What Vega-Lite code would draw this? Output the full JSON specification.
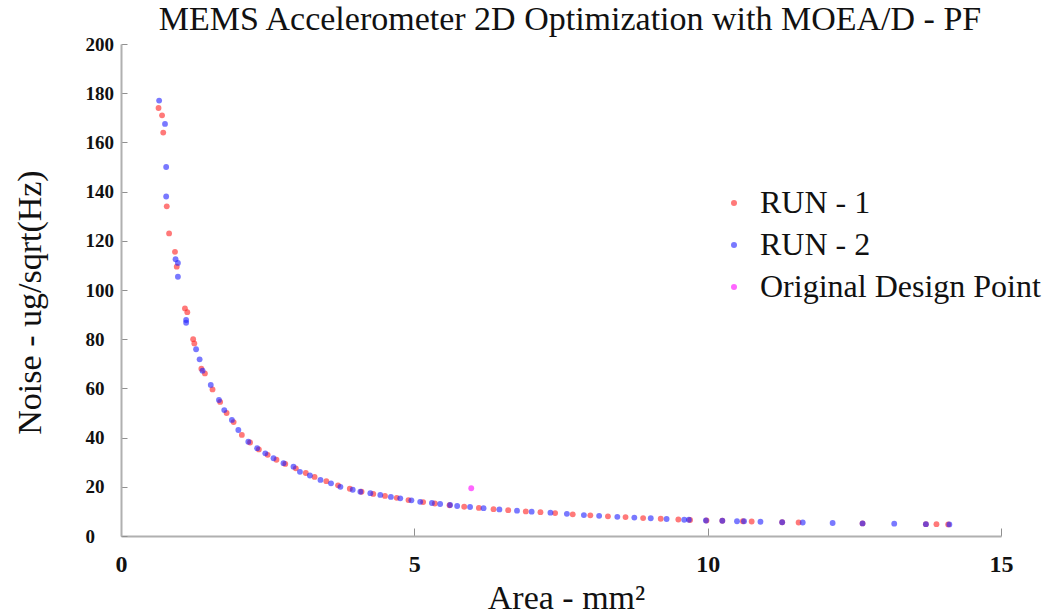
{
  "$schema": "https://vega.github.io/schema/vega-lite/v6.json",
  "autosize": {"type": "none"},
  "padding": {"left": 121, "top": 44, "right": 51, "bottom": 80},
  "width": 880,
  "height": 492,
  "background": "white",
  "title": {
    "text": "MEMS Accelerometer 2D Optimization with MOEA/D - PF",
    "font": "'Liberation Serif', 'DejaVu Serif', serif",
    "fontSize": 34,
    "fontWeight": "normal",
    "color": "#111111",
    "anchor": "middle",
    "baseline": "bottom",
    "dx": 9,
    "dy": 36,
    "offset": 0
  },
  "config": {
    "font": "Liberation Serif",
    "view": {"stroke": null},
    "axis": {"grid": false},
    "title": {"font": "'Liberation Serif', 'DejaVu Serif', serif"},
    "style": {"group-title": {"font": "'Liberation Serif', 'DejaVu Serif', serif"}}
  },
  "data": {
    "values": [
      {"area": 0.64, "noise": 174, "series": "RUN - 1"},
      {"area": 0.70, "noise": 171, "series": "RUN - 1"},
      {"area": 0.72, "noise": 164, "series": "RUN - 1"},
      {"area": 0.78, "noise": 134, "series": "RUN - 1"},
      {"area": 0.82, "noise": 123, "series": "RUN - 1"},
      {"area": 0.92, "noise": 115.5, "series": "RUN - 1"},
      {"area": 0.95, "noise": 109.5, "series": "RUN - 1"},
      {"area": 1.09, "noise": 92.5, "series": "RUN - 1"},
      {"area": 1.13, "noise": 91, "series": "RUN - 1"},
      {"area": 1.23, "noise": 80, "series": "RUN - 1"},
      {"area": 1.25, "noise": 78.3, "series": "RUN - 1"},
      {"area": 1.37, "noise": 68, "series": "RUN - 1"},
      {"area": 1.43, "noise": 66.1, "series": "RUN - 1"},
      {"area": 1.56, "noise": 59.6, "series": "RUN - 1"},
      {"area": 1.69, "noise": 54.5, "series": "RUN - 1"},
      {"area": 1.80, "noise": 50, "series": "RUN - 1"},
      {"area": 1.92, "noise": 46.3, "series": "RUN - 1"},
      {"area": 2.06, "noise": 41.1, "series": "RUN - 1"},
      {"area": 2.20, "noise": 38, "series": "RUN - 1"},
      {"area": 2.35, "noise": 35.2, "series": "RUN - 1"},
      {"area": 2.50, "noise": 33, "series": "RUN - 1"},
      {"area": 2.65, "noise": 31, "series": "RUN - 1"},
      {"area": 2.80, "noise": 29.3, "series": "RUN - 1"},
      {"area": 2.98, "noise": 27.5, "series": "RUN - 1"},
      {"area": 3.15, "noise": 25.6, "series": "RUN - 1"},
      {"area": 3.30, "noise": 24, "series": "RUN - 1"},
      {"area": 3.50, "noise": 22.3, "series": "RUN - 1"},
      {"area": 3.70, "noise": 20.6, "series": "RUN - 1"},
      {"area": 3.90, "noise": 19.2, "series": "RUN - 1"},
      {"area": 4.10, "noise": 18, "series": "RUN - 1"},
      {"area": 4.30, "noise": 17.1, "series": "RUN - 1"},
      {"area": 4.50, "noise": 16.3, "series": "RUN - 1"},
      {"area": 4.70, "noise": 15.5, "series": "RUN - 1"},
      {"area": 4.90, "noise": 14.6, "series": "RUN - 1"},
      {"area": 5.15, "noise": 13.8, "series": "RUN - 1"},
      {"area": 5.35, "noise": 13.2, "series": "RUN - 1"},
      {"area": 5.60, "noise": 12.5, "series": "RUN - 1"},
      {"area": 5.85, "noise": 11.9, "series": "RUN - 1"},
      {"area": 6.10, "noise": 11.4, "series": "RUN - 1"},
      {"area": 6.35, "noise": 10.9, "series": "RUN - 1"},
      {"area": 6.60, "noise": 10.5, "series": "RUN - 1"},
      {"area": 6.90, "noise": 10.0, "series": "RUN - 1"},
      {"area": 7.15, "noise": 9.7, "series": "RUN - 1"},
      {"area": 7.40, "noise": 9.3, "series": "RUN - 1"},
      {"area": 7.70, "noise": 8.8, "series": "RUN - 1"},
      {"area": 8.00, "noise": 8.4, "series": "RUN - 1"},
      {"area": 8.30, "noise": 8.0, "series": "RUN - 1"},
      {"area": 8.60, "noise": 7.7, "series": "RUN - 1"},
      {"area": 8.90, "noise": 7.3, "series": "RUN - 1"},
      {"area": 9.20, "noise": 7.0, "series": "RUN - 1"},
      {"area": 9.50, "noise": 6.7, "series": "RUN - 1"},
      {"area": 9.70, "noise": 6.5, "series": "RUN - 1"},
      {"area": 9.98, "noise": 6.3, "series": "RUN - 1"},
      {"area": 10.25, "noise": 6.2, "series": "RUN - 1"},
      {"area": 10.60, "noise": 6.0, "series": "RUN - 1"},
      {"area": 10.75, "noise": 5.9, "series": "RUN - 1"},
      {"area": 11.27, "noise": 5.6, "series": "RUN - 1"},
      {"area": 11.55, "noise": 5.5, "series": "RUN - 1"},
      {"area": 12.64, "noise": 5.1, "series": "RUN - 1"},
      {"area": 13.72, "noise": 4.8, "series": "RUN - 1"},
      {"area": 13.90, "noise": 4.8, "series": "RUN - 1"},
      {"area": 14.10, "noise": 4.7, "series": "RUN - 1"},
      {"area": 0.65, "noise": 177, "series": "RUN - 2"},
      {"area": 0.75, "noise": 167.5, "series": "RUN - 2"},
      {"area": 0.77, "noise": 150, "series": "RUN - 2"},
      {"area": 0.77, "noise": 138, "series": "RUN - 2"},
      {"area": 0.93, "noise": 112.5, "series": "RUN - 2"},
      {"area": 0.97, "noise": 111, "series": "RUN - 2"},
      {"area": 0.97, "noise": 105.4, "series": "RUN - 2"},
      {"area": 1.11, "noise": 87.8, "series": "RUN - 2"},
      {"area": 1.11, "noise": 86.7, "series": "RUN - 2"},
      {"area": 1.28, "noise": 75.9, "series": "RUN - 2"},
      {"area": 1.34, "noise": 71.8, "series": "RUN - 2"},
      {"area": 1.39, "noise": 67.2, "series": "RUN - 2"},
      {"area": 1.53, "noise": 61.4, "series": "RUN - 2"},
      {"area": 1.67, "noise": 55.3, "series": "RUN - 2"},
      {"area": 1.76, "noise": 51.2, "series": "RUN - 2"},
      {"area": 1.89, "noise": 47.2, "series": "RUN - 2"},
      {"area": 2.00, "noise": 43.1, "series": "RUN - 2"},
      {"area": 2.17, "noise": 38.3, "series": "RUN - 2"},
      {"area": 2.32, "noise": 35.7, "series": "RUN - 2"},
      {"area": 2.46, "noise": 33.6, "series": "RUN - 2"},
      {"area": 2.60, "noise": 31.6, "series": "RUN - 2"},
      {"area": 2.77, "noise": 29.6, "series": "RUN - 2"},
      {"area": 2.94, "noise": 28.2, "series": "RUN - 2"},
      {"area": 3.05, "noise": 26.1, "series": "RUN - 2"},
      {"area": 3.22, "noise": 24.6, "series": "RUN - 2"},
      {"area": 3.40, "noise": 22.8, "series": "RUN - 2"},
      {"area": 3.58, "noise": 21.4, "series": "RUN - 2"},
      {"area": 3.74, "noise": 20.0, "series": "RUN - 2"},
      {"area": 3.95, "noise": 18.8, "series": "RUN - 2"},
      {"area": 4.08, "noise": 18.0, "series": "RUN - 2"},
      {"area": 4.25, "noise": 17.4, "series": "RUN - 2"},
      {"area": 4.42, "noise": 16.7, "series": "RUN - 2"},
      {"area": 4.60, "noise": 15.9, "series": "RUN - 2"},
      {"area": 4.76, "noise": 15.3, "series": "RUN - 2"},
      {"area": 4.95, "noise": 14.5, "series": "RUN - 2"},
      {"area": 5.10, "noise": 13.9, "series": "RUN - 2"},
      {"area": 5.30, "noise": 13.4, "series": "RUN - 2"},
      {"area": 5.44, "noise": 13.0, "series": "RUN - 2"},
      {"area": 5.61, "noise": 12.6, "series": "RUN - 2"},
      {"area": 5.73, "noise": 12.2, "series": "RUN - 2"},
      {"area": 5.95, "noise": 11.8, "series": "RUN - 2"},
      {"area": 6.18, "noise": 11.3, "series": "RUN - 2"},
      {"area": 6.45, "noise": 10.8, "series": "RUN - 2"},
      {"area": 6.75, "noise": 10.3, "series": "RUN - 2"},
      {"area": 7.00, "noise": 9.9, "series": "RUN - 2"},
      {"area": 7.32, "noise": 9.5, "series": "RUN - 2"},
      {"area": 7.60, "noise": 9.0, "series": "RUN - 2"},
      {"area": 7.89, "noise": 8.5, "series": "RUN - 2"},
      {"area": 8.15, "noise": 8.2, "series": "RUN - 2"},
      {"area": 8.46, "noise": 7.8, "series": "RUN - 2"},
      {"area": 8.75, "noise": 7.5, "series": "RUN - 2"},
      {"area": 9.03, "noise": 7.2, "series": "RUN - 2"},
      {"area": 9.30, "noise": 6.9, "series": "RUN - 2"},
      {"area": 9.60, "noise": 6.6, "series": "RUN - 2"},
      {"area": 9.68, "noise": 6.6, "series": "RUN - 2"},
      {"area": 9.97, "noise": 6.3, "series": "RUN - 2"},
      {"area": 10.25, "noise": 6.2, "series": "RUN - 2"},
      {"area": 10.50, "noise": 6.0, "series": "RUN - 2"},
      {"area": 10.62, "noise": 6.0, "series": "RUN - 2"},
      {"area": 10.90, "noise": 5.8, "series": "RUN - 2"},
      {"area": 11.27, "noise": 5.6, "series": "RUN - 2"},
      {"area": 11.62, "noise": 5.5, "series": "RUN - 2"},
      {"area": 12.13, "noise": 5.3, "series": "RUN - 2"},
      {"area": 12.64, "noise": 5.1, "series": "RUN - 2"},
      {"area": 13.18, "noise": 5.0, "series": "RUN - 2"},
      {"area": 13.72, "noise": 4.8, "series": "RUN - 2"},
      {"area": 14.12, "noise": 4.7, "series": "RUN - 2"},
      {"area": 5.97, "noise": 19.4, "series": "Original Design Point"}
    ]
  },
  "mark": {"type": "circle", "size": 34, "opacity": 0.6},
  "encoding": {
    "x": {
      "field": "area",
      "type": "quantitative",
      "scale": {"domain": [0, 15], "nice": false, "zero": false},
      "axis": {
        "values": [0, 5, 10, 15],
        "title": "Area - mm²",
        "titleFont": "Liberation Serif",
        "titleFontSize": 34,
        "titleFontWeight": "normal",
        "titleColor": "#111111",
        "titleX": 445,
        "titleY": 62,
        "titleBaseline": "middle",
        "labelFont": "Liberation Serif",
        "labelFontSize": 24,
        "labelFontWeight": "bold",
        "labelColor": "#111111",
        "labelPadding": 24,
        "labelFlush": false,
        "domainColor": "#b0b0b0",
        "domainWidth": 2,
        "tickColor": "#909090",
        "tickSize": -8,
        "tickWidth": 1
      }
    },
    "y": {
      "field": "noise",
      "type": "quantitative",
      "scale": {"domain": [0, 200], "nice": false},
      "axis": {
        "values": [0, 20, 40, 60, 80, 100, 120, 140, 160, 180, 200],
        "title": "Noise - ug/sqrt(Hz)",
        "titleFont": "Liberation Serif",
        "titleFontSize": 34,
        "titleFontWeight": "normal",
        "titleColor": "#111111",
        "titleX": -91,
        "titleY": 258,
        "titleAngle": -90,
        "titleAlign": "center",
        "titleBaseline": "middle",
        "labelFont": "Liberation Serif",
        "labelFontSize": 19,
        "labelFontWeight": "bold",
        "labelColor": "#111111",
        "labelAlign": "left",
        "labelPadding": 42,
        "labelFlush": false,
        "domainColor": "#b0b0b0",
        "domainWidth": 2,
        "tickColor": "#909090",
        "tickSize": -6,
        "tickWidth": 1
      }
    },
    "color": {
      "field": "series",
      "type": "nominal",
      "sort": ["RUN - 1", "RUN - 2", "Original Design Point"],
      "scale": {
        "domain": ["RUN - 1", "RUN - 2", "Original Design Point"],
        "range": ["#ff2020", "#2020ff", "#ff00ff"]
      },
      "legend": {
        "title": null,
        "orient": "none",
        "legendX": 597,
        "legendY": 143,
        "labelFont": "Liberation Serif",
        "labelFontSize": 32,
        "labelColor": "#111111",
        "labelLimit": 400,
        "labelOffset": 10,
        "symbolType": "circle",
        "symbolSize": 36,
        "symbolOpacity": 0.6,
        "rowPadding": 10
      }
    }
  }
}
